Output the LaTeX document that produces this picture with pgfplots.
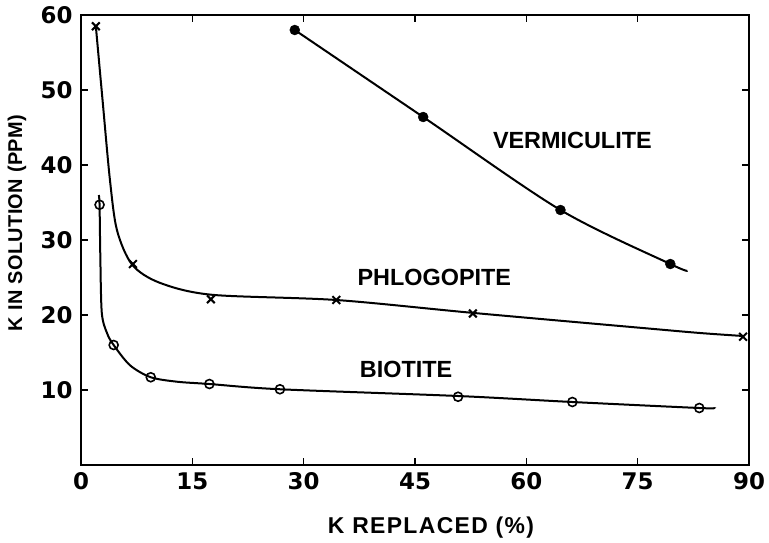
\documentclass[border=0pt]{standalone}
\usepackage{pgfplots}
\pgfplotsset{compat=1.18}
\usepackage{fontspec}
\setmainfont{Liberation Sans}
\newfontfamily\tickfont{DejaVu Sans}
\begin{document}
\begin{tikzpicture}
\begin{axis}[
  name=ax,
  scale only axis,
  width=668bp, height=450bp,
  xmin=0, xmax=90, ymin=0, ymax=60,
  xtick={0,15,...,90},
  ytick={10,20,...,60},
  tick align=inside,
  major tick length=7bp,
  axis line style={line width=1.3bp},
  every tick/.style={line width=1.1bp, black},
  /pgf/number format/assume math mode=true,
  tick label style={font=\fontsize{23}{26}\selectfont\tickfont\bfseries},
  xticklabel style={yshift=-4bp},
  yticklabel style={xshift=-5bp},
  xlabel={K REPLACED (\%)},
  ylabel={K IN SOLUTION (PPM)},
  label style={font=\fontsize{20}{24}\selectfont\bfseries\addfontfeatures{LetterSpace=2}},
  xlabel style={at={(axis description cs:0.524,-0.14)}, anchor=center, font=\fontsize{23}{26}\selectfont\bfseries\addfontfeatures{LetterSpace=6}},
  ylabel style={at={(axis description cs:-0.096,0.538)}, anchor=center, rotate=0},
  clip=false,
]
% Phlogopite curve
\addplot[black, line width=2bp, smooth, no marks] coordinates {
  (2.0,58.5) (2.9,48.7) (3.9,38) (4.85,31.3) (6.9,26.7) (10.6,24.3)
  (17.6,22.7) (34.4,22.0) (52.6,20.3) (75.3,18.3) (83.4,17.6) (89.2,17.2)
};
\addplot[black, only marks, mark=x, mark size=5.5bp, line width=2bp] coordinates {
  (2.0,58.5) (7.0,26.8) (17.5,22.1) (34.4,22.0) (52.8,20.2) (89.2,17.1)
};
% Biotite curve
\addplot[black, line width=2bp, smooth, no marks] coordinates {
  (2.4,36) (2.5,34.7) (2.6,28) (2.8,20.3) (3.5,17.6) (4.4,16) (6.6,13.3)
  (9.4,11.7) (13,11.1) (17.3,10.8) (26.8,10.1) (50.8,9.2) (66.2,8.4) (83.3,7.6) (85.2,7.6)
};
\addplot[black, only marks, mark=o, mark size=4.5bp, line width=1.6bp,
  mark options={fill=white}] coordinates {
  (2.5,34.7) (4.4,16.0) (9.4,11.7) (17.3,10.8) (26.8,10.1) (50.8,9.1) (66.2,8.4) (83.3,7.6)
};
% Vermiculite curve
\addplot[black, line width=2bp, smooth, no marks] coordinates {
  (28.8,58) (46.1,46.4) (64.6,34) (79.4,26.8) (81.7,25.9)
};
\addplot[black, only marks, mark=*, mark size=5bp] coordinates {
  (28.8,58) (46.1,46.4) (64.6,34) (79.4,26.8)
};
\node[font=\fontsize{23.5}{26}\selectfont\bfseries] at (axis cs:66.2,43.3) {VERMICULITE};
\node[font=\fontsize{23.5}{26}\selectfont\bfseries] at (axis cs:47.6,25.0) {PHLOGOPITE};
\node[font=\fontsize{23.5}{26}\selectfont\bfseries] at (axis cs:43.8,12.7) {BIOTITE};
\end{axis}
\pgfresetboundingbox
\path[use as bounding box] ([shift={(-81bp,-77bp)}]ax.south west) rectangle ([shift={(20bp,15bp)}]ax.north east);
\end{tikzpicture}
\end{document}
